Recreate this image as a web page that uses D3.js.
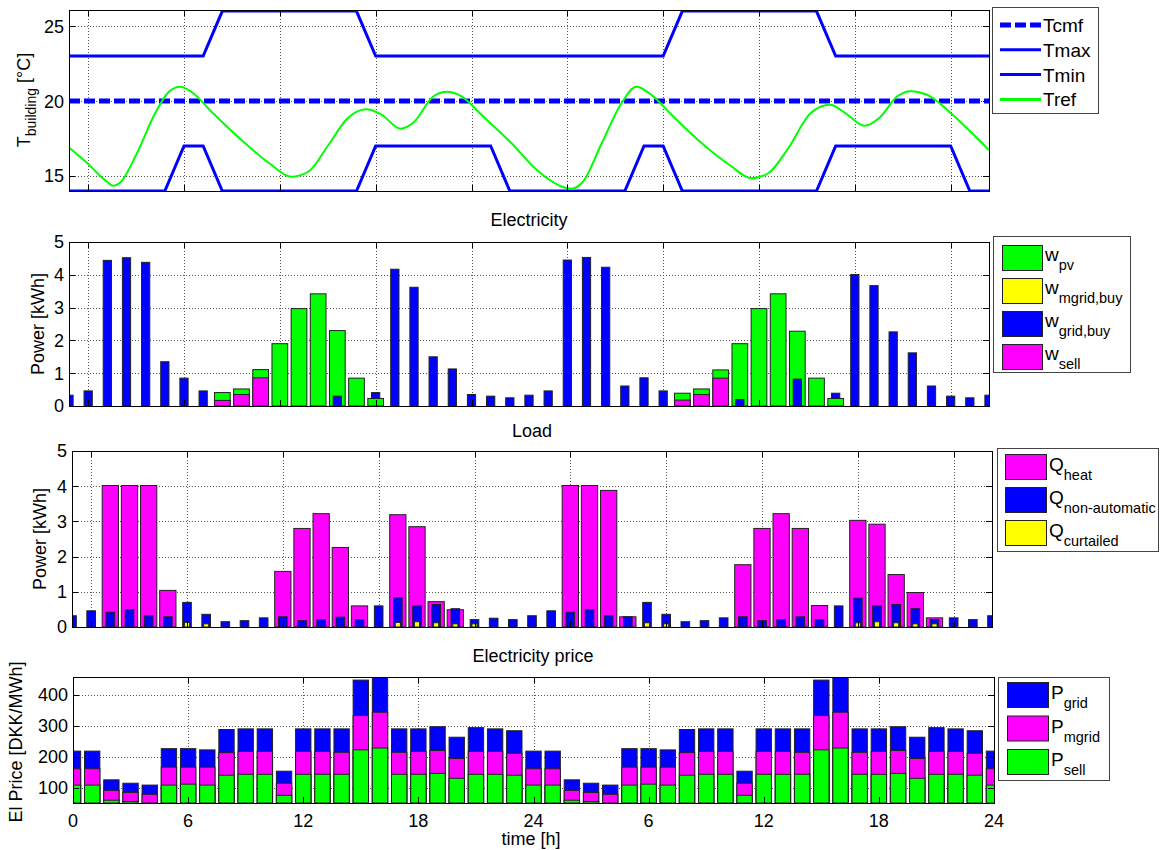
<!DOCTYPE html>
<html><head><meta charset="utf-8">
<script src="https://cdn.jsdelivr.net/npm/d3@7"></script>
<style>body{margin:0;background:#fff} text{font-family:"Liberation Sans",Arial,sans-serif;fill:#000}</style>
</head><body><svg id="c" width="1160" height="850"></svg>
<script>
// ---------- data ----------
const hours = d3.range(0, 49);                 // time steps 0..48 h
const gridHours = [1,6,11,16,21,26,31,36,41,46];
const priceTickHours = [0,6,12,18,24,30,36,42,48];
const priceTickLabels = ["0","6","12","18","24","6","12","18","24"];

// Building temperature panel
const tMax = [23,23,23,23,23,23,23,23,26,26,26,26,26,26,26,26,23,23,23,23,23,23,23,23,23,23,23,23,23,23,23,23,26,26,26,26,26,26,26,26,23,23,23,23,23,23,23,23,23];
const tMin = [14,14,14,14,14,14,17,17,14,14,14,14,14,14,14,14,17,17,17,17,17,17,17,14,14,14,14,14,14,14,17,17,14,14,14,14,14,14,14,14,17,17,17,17,17,17,17,14,14];
const tCmf = 20;
const trefHour = [0,1,2,2.3,2.7,3.5,4.5,5.2,5.8,6.4,7.5,9,10.5,11.6,12.5,13.5,14.5,15.5,16.3,17.3,18.0,19.0,19.7,20.5,21.5,23,24.5,25.7,26.2,26.8,27.8,28.8,29.6,30.3,31.5,33,34.5,35.6,36.5,37.5,38.7,39.7,40.5,41.5,42.3,43.2,43.9,44.8,46,47,48];
const trefTemp = [16.9,15.8,14.6,14.35,14.6,16.4,19.2,20.6,20.95,20.6,19.2,17.4,15.8,14.95,15.3,17.0,18.8,19.45,19.1,18.15,18.6,20.3,20.62,20.3,19.1,17.3,15.3,14.3,14.15,14.6,17.2,19.8,20.95,20.5,19.0,17.2,15.7,14.85,15.2,16.8,19.2,19.75,19.2,18.35,18.9,20.3,20.66,20.4,19.2,18.0,16.73];

// Electricity panel [kWh]
const wPv       = [0,0,0,0,0,0,0,0,0.41,0.52,1.11,1.9,2.97,3.42,2.3,0.85,0.23,0,0,0,0,0,0,0,0,0,0,0,0,0,0,0,0.39,0.52,1.1,1.9,2.97,3.42,2.28,0.85,0.23,0,0,0,0,0,0,0,0];
const wMgridBuy = [0,0,0,0,0,0,0,0,0,0,0,0,0,0,0,0,0,0,0,0,0,0,0,0,0,0,0,0,0,0,0,0,0,0,0,0,0,0,0,0,0,0,0,0,0,0,0,0,0];
const wGridBuy  = [0.33,0.46,4.44,4.52,4.38,1.35,0.85,0.46,0,0,0,0,0,0,0.3,0,0.41,4.17,3.62,1.5,1.13,0.35,0.3,0.25,0.33,0.46,4.45,4.53,4.23,0.61,0.86,0.46,0,0,0,0.2,0,0,0.82,0,0.39,4.01,3.67,2.26,1.62,0.61,0.3,0.25,0.33];
const wSell     = [0,0,0,0,0,0,0,0,0.17,0.35,0.86,0,0,0,0,0,0,0,0,0,0,0,0,0,0,0,0,0,0,0,0,0,0.18,0.35,0.85,0,0,0,0,0,0,0,0,0,0,0,0,0,0];

// Load panel [kWh]
const qHeat      = [0,0,4.02,4.02,4.02,1.04,0,0,0,0,0,1.58,2.8,3.22,2.26,0.6,0,3.19,2.85,0.72,0.49,0,0,0,0,0,4.02,4.02,3.88,0.29,0,0,0,0,0,1.77,2.8,3.22,2.8,0.61,0,3.03,2.92,1.49,0.98,0.26,0,0,0];
const qNonAuto   = [0.32,0.46,0.42,0.49,0.32,0.29,0.7,0.36,0.15,0.18,0.26,0.29,0.18,0.21,0.28,0.21,0.6,0.83,0.6,0.64,0.52,0.21,0.25,0.21,0.32,0.46,0.42,0.49,0.32,0.29,0.7,0.36,0.15,0.18,0.26,0.29,0.18,0.21,0.29,0.21,0.6,0.82,0.6,0.64,0.52,0.21,0.26,0.21,0.32];
const qCurtailed = [0,0,0,0,0,0,0.13,0.09,0,0,0,0,0,0,0,0,0,0.13,0.15,0.12,0.09,0.09,0,0,0,0,0,0,0,0,0.12,0.09,0,0,0,0,0,0,0,0,0,0.12,0.15,0.12,0.09,0.09,0,0,0];

// Electricity price [DKK/MWh]
const pGrid  = [218,218,125,114,108,226,226,222,288,290,290,153,290,290,290,448,470,290,290,297,263,294,290,284,218,218,125,114,108,226,226,222,288,290,290,153,290,290,290,448,470,290,290,297,263,294,290,284,218];
const pMgrid = [161,161,91,84,78,166,166,166,213,217,217,114,217,217,214,333,344,214,217,220,194,217,217,211,161,161,91,84,78,166,166,166,213,217,217,114,217,217,214,333,344,214,217,220,194,217,217,211,161];
const pSell  = [108,108,59,55,45,108,111,108,140,143,143,75,143,143,143,222,228,143,143,146,130,143,143,140,108,108,59,55,45,108,111,108,140,143,143,75,143,143,143,222,228,143,143,146,130,143,143,140,108];

// ---------- drawing ----------
const GREEN="#00ff00", MAG="#ff00ff", BLUE="#0000ff", YEL="#ffff00", EDGE="#222";
const svg = d3.select("#c");
const FS = 18;

function panel(id, b, yDomain, yTicks, xGrid){
  const x = d3.scaleLinear().domain([0,48]).range([b.x0,b.x1]);
  const y = d3.scaleLinear().domain(yDomain).range([b.y1,b.y0]);
  svg.append("clipPath").attr("id","clip"+id).append("rect")
     .attr("x",b.x0).attr("y",b.y0).attr("width",b.x1-b.x0).attr("height",b.y1-b.y0);
  const g = svg.append("g");
  // grid
  const grid = g.append("g").attr("stroke","#555").attr("stroke-dasharray","1,2").attr("stroke-width",1);
  yTicks.forEach(t=>{ grid.append("line").attr("x1",b.x0).attr("x2",b.x1).attr("y1",Math.round(y(t))+0.5).attr("y2",Math.round(y(t))+0.5); });
  xGrid.forEach(t=>{ grid.append("line").attr("y1",b.y0).attr("y2",b.y1).attr("x1",Math.round(x(t))+0.5).attr("x2",Math.round(x(t))+0.5); });
  const data = g.append("g").attr("clip-path","url(#clip"+id+")");
  const over = svg.append("g");
  // frame + ticks
  over.append("rect").attr("x",b.x0+0.5).attr("y",b.y0+0.5).attr("width",b.x1-b.x0).attr("height",b.y1-b.y0)
      .attr("fill","none").attr("stroke","#000").attr("stroke-width",1);
  yTicks.forEach(t=>{
    const yy=Math.round(y(t))+0.5;
    over.append("line").attr("x1",b.x0).attr("x2",b.x0+6).attr("y1",yy).attr("y2",yy).attr("stroke","#000");
    over.append("line").attr("x1",b.x1-6).attr("x2",b.x1).attr("y1",yy).attr("y2",yy).attr("stroke","#000");
    over.append("text").attr("x",b.x0-5).attr("y",y(t)).attr("dy","0.36em").attr("text-anchor","end")
        .attr("font-size",FS).text(t);
  });
  xGrid.forEach(t=>{
    const xx=Math.round(x(t))+0.5;
    over.append("line").attr("x1",xx).attr("x2",xx).attr("y1",b.y1).attr("y2",b.y1-6).attr("stroke","#000");
    over.append("line").attr("x1",xx).attr("x2",xx).attr("y1",b.y0).attr("y2",b.y0+6).attr("stroke","#000");
  });
  return {x,y,data,over,b};
}

function barRect(p, h, v, w, color, base){
  const y0 = base===undefined ? p.y.domain()[0] : base;
  p.data.append("rect")
    .attr("x", p.x(h - w/2)).attr("width", p.x(w) - p.x(0))
    .attr("y", p.y(v)).attr("height", Math.max(0, p.y(y0) - p.y(v)))
    .attr("fill", color).attr("stroke", EDGE).attr("stroke-width", 1);
}

function legend(x, y, w, h){
  return svg.append("rect").attr("x",x+0.5).attr("y",y+0.5).attr("width",w).attr("height",h)
    .attr("fill","#fff").attr("stroke","#444").attr("stroke-width",1);
}
function subText(x, y, main, sub, mainSize, subSize){
  const t = svg.append("text").attr("x",x).attr("y",y).attr("font-size",mainSize);
  t.append("tspan").text(main);
  t.append("tspan").attr("font-size",subSize).attr("dy",9).text(sub);
}

// ---- Panel 1: temperatures ----
const p1 = panel(1, {x0:69,x1:989,y0:10,y1:191}, [14,26.07], [15,20,25], gridHours);
const lineH = d3.line().x((d,i)=>p1.x(hours[i])).y(d=>p1.y(d));
p1.data.append("path").attr("d", lineH(tMax)).attr("fill","none").attr("stroke",BLUE).attr("stroke-width",3);
p1.data.append("path").attr("d", lineH(tMin)).attr("fill","none").attr("stroke",BLUE).attr("stroke-width",3);
p1.data.append("line").attr("x1",p1.x(0)).attr("x2",p1.x(48)).attr("y1",p1.y(tCmf)).attr("y2",p1.y(tCmf))
   .attr("stroke",BLUE).attr("stroke-width",5).attr("stroke-dasharray","11,4");
const lineR = d3.line().curve(d3.curveMonotoneX).x((d,i)=>p1.x(trefHour[i])).y(d=>p1.y(d));
p1.data.append("path").attr("d", lineR(trefTemp)).attr("fill","none").attr("stroke",GREEN).attr("stroke-width",2);

// y label
{
  const t = svg.append("text").attr("transform","translate(30,100) rotate(-90)").attr("text-anchor","middle").attr("font-size",FS);
  t.append("tspan").text("T");
  t.append("tspan").attr("font-size",14).attr("dy",6).text("building");
  t.append("tspan").attr("dy",-6).text(" [°C]");
}
// legend 1
legend(992, 7, 106, 106);
const leg1 = [{n:"Tcmf",w:5,d:"11,4"},{n:"Tmax",w:3},{n:"Tmin",w:3},{n:"Tref",w:3,c:GREEN}];
leg1.forEach((e,i)=>{
  const yy = 25 + i*24.8;
  svg.append("line").attr("x1",1000).attr("x2",1041).attr("y1",yy).attr("y2",yy)
     .attr("stroke",e.c||BLUE).attr("stroke-width",e.w).attr("stroke-dasharray",e.d||null);
  svg.append("text").attr("x",1043).attr("y",yy+7).attr("font-size",19).text(e.n);
});

// ---- Panel 2: electricity ----
svg.append("text").attr("x",529).attr("y",226).attr("text-anchor","middle").attr("font-size",FS).text("Electricity");
const p2 = panel(2, {x0:69,x1:989,y0:242,y1:406}, [0,5], [0,1,2,3,4,5], gridHours);
hours.forEach(h=>{
  const items = [
    {v:wPv[h], w:0.82, c:GREEN},
    {v:wSell[h], w:0.82, c:MAG},
    {v:wMgridBuy[h], w:0.82, c:YEL},
    {v:wGridBuy[h], w:0.43, c:BLUE}
  ].filter(d=>d.v>0).sort((a,b)=>b.v-a.v);
  items.forEach(d=>barRect(p2, h, d.v, d.w, d.c));
});
svg.append("text").attr("transform","translate(44,324) rotate(-90)").attr("text-anchor","middle").attr("font-size",FS).text("Power [kWh]");
legend(993, 236, 137, 136);
[{m:"w",s:"pv",c:GREEN},{m:"w",s:"mgrid,buy",c:YEL},{m:"w",s:"grid,buy",c:BLUE},{m:"w",s:"sell",c:MAG}].forEach((e,i)=>{
  const yy = 245 + i*33;
  svg.append("rect").attr("x",1002.5).attr("y",yy+0.5).attr("width",40).attr("height",25).attr("fill",e.c).attr("stroke",EDGE);
  subText(1045, yy+16, e.m, e.s, 19, 14.5);
});

// ---- Panel 3: load ----
svg.append("text").attr("x",532).attr("y",437).attr("text-anchor","middle").attr("font-size",FS).text("Load");
const p3 = panel(3, {x0:72,x1:992,y0:451,y1:627}, [0,5], [0,1,2,3,4,5], gridHours);
hours.forEach(h=>{
  if(qHeat[h]>0) barRect(p3, h, qHeat[h], 0.85, MAG);
  if(qNonAuto[h]>0) barRect(p3, h, qNonAuto[h], 0.45, BLUE);
  if(qCurtailed[h]>0) barRect(p3, h, qCurtailed[h], 0.27, YEL);
});
svg.append("text").attr("transform","translate(46,539) rotate(-90)").attr("text-anchor","middle").attr("font-size",FS).text("Power [kWh]");
legend(997, 448, 161, 103);
[{m:"Q",s:"heat",c:MAG},{m:"Q",s:"non-automatic",c:BLUE},{m:"Q",s:"curtailed",c:YEL}].forEach((e,i)=>{
  const yy = 454 + i*33;
  svg.append("rect").attr("x",1005.5).attr("y",yy+0.5).attr("width",41).attr("height",25).attr("fill",e.c).attr("stroke",EDGE);
  subText(1049, yy+17, e.m, e.s, 19, 14.5);
});

// ---- Panel 4: price ----
svg.append("text").attr("x",533).attr("y",662).attr("text-anchor","middle").attr("font-size",FS).text("Electricity price");
const p4 = panel(4, {x0:73,x1:994,y0:677,y1:803}, [50,458], [100,200,300,400], priceTickHours);
hours.forEach(h=>{
  barRect(p4, h, pGrid[h], 0.8, BLUE);
  barRect(p4, h, pMgrid[h], 0.8, MAG);
  if(pSell[h]>50) barRect(p4, h, pSell[h], 0.8, GREEN);
});
priceTickHours.forEach((t,i)=>{
  svg.append("text").attr("x",p4.x(t)).attr("y",827).attr("text-anchor","middle").attr("font-size",FS).text(priceTickLabels[i]);
});
svg.append("text").attr("x",531).attr("y",845).attr("text-anchor","middle").attr("font-size",FS).text("time [h]");
svg.append("text").attr("transform","translate(22,742) rotate(-90)").attr("text-anchor","middle").attr("font-size",FS).text("El Price [DKK/MWh]");
legend(998, 677, 111, 103);
[{m:"P",s:"grid",c:BLUE},{m:"P",s:"mgrid",c:MAG},{m:"P",s:"sell",c:GREEN}].forEach((e,i)=>{
  const yy = 682 + i*33.5;
  svg.append("rect").attr("x",1007.5).attr("y",yy+0.5).attr("width",41).attr("height",25).attr("fill",e.c).attr("stroke",EDGE);
  subText(1051, yy+17, e.m, e.s, 19, 14.5);
});
</script></body></html>
